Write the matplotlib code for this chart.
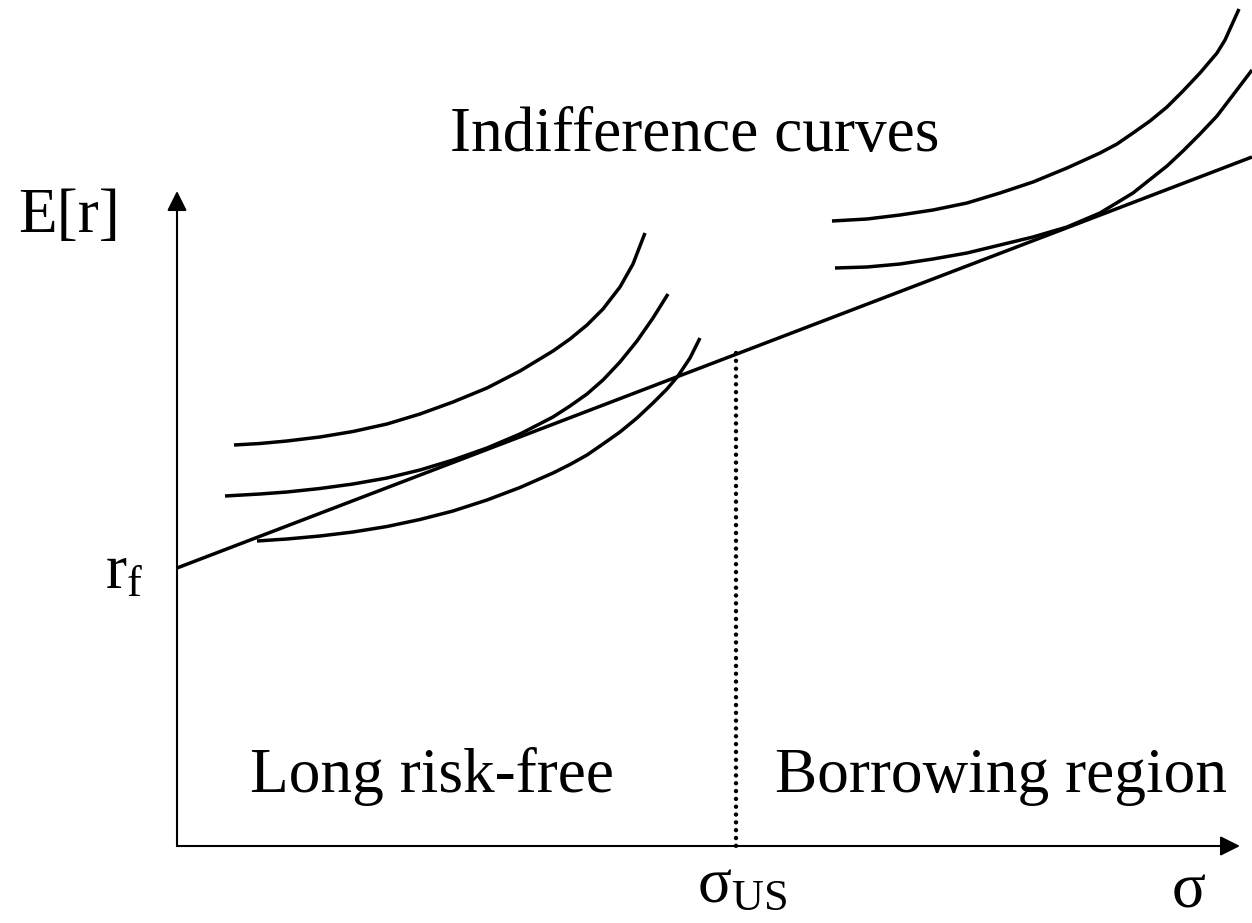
import matplotlib
matplotlib.use("Agg")
import matplotlib.pyplot as plt

plt.rcParams['font.family'] = ['Liberation Serif', 'DejaVu Serif']
plt.rcParams['mathtext.fontset'] = 'custom'
plt.rcParams['mathtext.rm'] = 'Liberation Serif'
plt.rcParams['mathtext.it'] = 'Liberation Serif:italic'

# diagram laid out in picture units (x right, y down)
origin = (177, 846)
y_axis_top = 191
x_axis_end = 1240

# capital allocation line from r_f
cal_x = [177, 1252]
cal_y = [568, 157]

# sigma_US split point
sigma_us = 736
sigma_us_top = 353

# indifference curves, left group
left_top_x = [234, 260, 287, 320, 353, 387, 420, 453, 487, 520, 553, 570, 587, 603, 620, 633, 645]
left_top_y = [445, 443.5, 441, 437, 431.5, 424, 414, 402, 388, 371, 351, 339, 325, 309, 287, 264, 233]
left_mid_x = [225, 260, 287, 320, 353, 387, 420, 453, 487, 520, 553, 570, 587, 603, 620, 637, 653, 668]
left_mid_y = [496, 494, 492, 488.5, 484, 478, 470, 460, 448, 434, 417, 406, 394, 380, 362, 341, 318, 294]
left_low_x = [257, 287, 320, 353, 387, 420, 453, 487, 520, 553, 570, 587, 603, 620, 637, 653, 667, 678, 690, 700]
left_low_y = [541, 539, 536, 532, 526.5, 519.5, 511, 500, 487.5, 473, 464.5, 455, 444, 432, 418, 403, 389, 376, 358, 338]

# right group
right_top_x = [832, 867, 900, 933, 967, 1000, 1033, 1067, 1100, 1117, 1133, 1150, 1167, 1183, 1200, 1217, 1225, 1239]
right_top_y = [221, 219, 215, 210, 203, 193, 182, 168, 153, 144, 133, 121, 107, 91, 73, 53, 40, 9]
right_low_x = [835, 867, 900, 933, 967, 1000, 1033, 1067, 1100, 1133, 1167, 1183, 1200, 1217, 1233, 1252]
right_low_y = [268, 267, 264, 259, 253, 245, 237, 227, 213, 193, 166, 151, 134, 116, 95, 70]

fig = plt.figure(figsize=(12.52, 9.23), dpi=100)
ax = fig.add_axes([0, 0, 1, 1])
ax.set_xlim(0, 1252)
ax.set_ylim(923, 0)
ax.axis('off')

arrow = dict(arrowstyle='-|>,head_length=0.8,head_width=0.4', mutation_scale=15,
             lw=1.5, color='black', shrinkA=0, shrinkB=0)
ax.annotate('', xy=(origin[0], y_axis_top), xytext=origin, arrowprops=arrow)
ax.annotate('', xy=(x_axis_end, origin[1]), xytext=origin, arrowprops=arrow)

lw = 2.5
ax.plot(cal_x, cal_y, color='black', lw=lw, solid_capstyle='butt')
for xs, ys in [(left_top_x, left_top_y), (left_mid_x, left_mid_y), (left_low_x, left_low_y),
               (right_top_x, right_top_y), (right_low_x, right_low_y)]:
    ax.plot(xs, ys, color='black', lw=lw, solid_joinstyle='round', solid_capstyle='butt')

# dotted split line
ax.plot([sigma_us, sigma_us], [sigma_us_top, origin[1]], color='black', lw=3.2,
        linestyle=(0, (0.01, 1.75)), dash_capstyle='round')

fs = 45.5
ax.text(450, 151, 'Indifference curves', fontsize=fs, va='baseline', ha='left')
ax.text(18, 232, 'E[r]', fontsize=fs, va='baseline', ha='left')
ax.text(105, 588, r'$\mathrm{r}_\mathrm{f}$', fontsize=fs, va='baseline', ha='left')
ax.text(250, 792, 'Long risk-free', fontsize=fs, va='baseline', ha='left')
ax.text(775, 792, 'Borrowing region', fontsize=fs, va='baseline', ha='left')
ax.text(697, 902, r'$\mathrm{σ}_\mathrm{US}$', fontsize=fs, va='baseline', ha='left')
ax.text(1172, 922, 'σ', fontsize=fs, va='bottom', ha='left')

fig.savefig('out.png', dpi=100)
